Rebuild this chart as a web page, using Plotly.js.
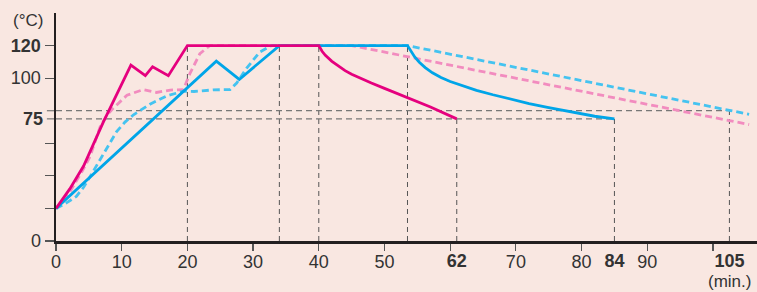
<!DOCTYPE html>
<html>
<head>
<meta charset="utf-8">
<script src="https://cdn.plot.ly/plotly-3.0.1.min.js"></script>
<style>html,body{margin:0;padding:0;background:#f9e7e1;}#chart{width:757px;height:292px;}</style>
</head>
<body>
<div id="chart"></div>
<script>
// Solid magenta
const magentaX = [0, 2.1, 4.2, 7.2, 11.4, 13.6, 14.7, 17.1, 20, 40, 40.5, 41, 42, 43, 44, 45, 46.5, 48, 50, 53.4, 57, 61];
const magentaY = [20, 32, 46, 73, 108, 101.5, 107, 101.5, 120, 120, 116.5, 114, 110.3, 107.2, 104.6, 102.4, 99.6, 97, 93.7, 88.2, 82.3, 75];
// Dashed pink
const pinkDashX = [0, 2.1, 4, 5.2, 6.7, 7.7, 8.7, 10.8, 13.3, 15.3, 17.4, 19.4, 20.4, 21.9, 23.4, 45, 105.5];
const pinkDashY = [20, 30, 43, 52, 70, 77, 81.5, 89.5, 93, 91.2, 92.7, 93, 103, 115, 120, 120, 71.5];
// Solid cyan
const cyanX = [0, 24.4, 27.9, 34, 53.5, 54, 54.6, 55.3, 56.2, 57.3, 58.6, 60, 62, 64, 66.5, 69, 72, 75, 78.7, 82, 85];
const cyanY = [20, 110.4, 99.2, 120, 120, 116.5, 113, 109.8, 106.5, 103.3, 100.4, 97.9, 95, 92.5, 89.8, 87.2, 84.4, 81.9, 78.9, 76.6, 75];
// Dashed cyan
const cyanDashX = [0, 1.6, 3.1, 4.2, 5.2, 6.7, 8.2, 9.2, 10.5, 11.8, 14.3, 16.8, 19.4, 21, 23.9, 26.5, 27.5, 29, 31, 32.8, 53.5, 105.5];
const cyanDashY = [20, 23.4, 27.4, 33, 39.6, 50, 60, 67, 73, 77.5, 84, 89, 92, 91.8, 92.8, 93, 97, 106, 116, 120, 120, 77.8];

// Axis ticks
const xTickVals = [0, 10, 20, 30, 40, 50, 60, 70, 80, 90, 100];
const xTickText = ['0', '10', '20', '30', '40', '50', '', '70', '80', '90', ''];
const xBoldVals = [61, 85, 102.5];
const xBoldText = ['62', '84', '105'];
const yTickVals = [0, 20, 40, 60, 100, 120];
const yTickText = ['0', '', '', '', '100', '<b>120</b>'];
const yBoldVal = 75;
const yBoldText = '75';

// Reference dashed guides
const vGuides = [[20, 120], [34, 120], [40, 120], [53.5, 120], [61, 75], [85, 75], [102.5, 80]];
const hGuides = [[80, 102.5], [75, 85]];

const font = 'Liberation Sans, Arial, sans-serif';
const traces = [
  {x: pinkDashX, y: pinkDashY, mode: 'lines', line: {color: '#f28cbf', width: 2.8, dash: '7px,4px'}, xaxis: 'x', yaxis: 'y'},
  {x: cyanDashX, y: cyanDashY, mode: 'lines', line: {color: '#45c3f0', width: 2.8, dash: '7px,4px'}, xaxis: 'x', yaxis: 'y'},
  {x: cyanX, y: cyanY, mode: 'lines', line: {color: '#00a5e8', width: 2.8}, xaxis: 'x2', yaxis: 'y'},
  {x: magentaX, y: magentaY, mode: 'lines', line: {color: '#e5007e', width: 2.8}, xaxis: 'x2', yaxis: 'y'}
];

const shapes = [];
vGuides.forEach(g => shapes.push({type: 'line', xref: 'x', yref: 'y', x0: g[0], x1: g[0], y0: 0, y1: g[1], layer: 'below', line: {color: '#555', width: 1, dash: '5px,4px'}}));
hGuides.forEach(g => {
  shapes.push({type: 'line', xref: 'x', yref: 'y', x0: 0, x1: g[1], y0: g[0], y1: g[0], layer: 'below', line: {color: '#777', width: 1.2, dash: '6px,4px'}});
  shapes.push({type: 'line', xref: 'paper', yref: 'y', x0: -0.013, x1: 0, y0: g[0], y1: g[0], layer: 'below', line: {color: '#777', width: 1.2}});
});

const axisCommon = {
  showline: true, linecolor: '#231f20', linewidth: 2.5, ticks: 'outside', tickcolor: '#555', tickwidth: 1.2,
  showgrid: false, zeroline: false, tickfont: {family: font, size: 18, color: '#333'}, fixedrange: true
};

const layout = {
  width: 757, height: 292,
  margin: {l: 56, r: 0, t: 13, b: 51},
  paper_bgcolor: '#f9e7e1', plot_bgcolor: '#f9e7e1',
  showlegend: false,
  xaxis: Object.assign({}, axisCommon, {range: [0, 106.7], tickmode: 'array', tickvals: xTickVals, ticktext: xTickText, ticklen: 7, ticklabelstandoff: -4}),
  xaxis2: Object.assign({}, axisCommon, {range: [0, 106.7], overlaying: 'x', anchor: 'y', side: 'bottom', showline: false,
    tickmode: 'array', tickvals: xBoldVals, ticktext: xBoldText.map(t => '<b>' + t + '</b>'), ticklen: 7, ticklabelstandoff: -4, tickcolor: 'rgba(0,0,0,0)'}),
  yaxis: Object.assign({}, axisCommon, {range: [0, 140], tickmode: 'array', tickvals: yTickVals, ticktext: yTickText, ticklen: 9}),
  shapes: shapes,
  annotations: [
    {xref: 'paper', yref: 'y', x: 0, y: yBoldVal, xanchor: 'right', yanchor: 'middle', xshift: -11, text: '<b>' + yBoldText + '</b>', showarrow: false, font: {family: font, size: 18, color: '#333'}},
    {xref: 'paper', yref: 'y', x: 0, y: 135.5, xanchor: 'right', yanchor: 'middle', xshift: -11, text: '(°C)', showarrow: false, font: {family: font, size: 17, color: '#333'}},
    {xref: 'x', yref: 'paper', x: 102.5, y: 0, xanchor: 'center', yanchor: 'top', yshift: -29, text: '(min.)', showarrow: false, font: {family: font, size: 17, color: '#333'}}
  ]
};

Plotly.newPlot('chart', traces, layout, {displayModeBar: false, staticPlot: true});
</script>
</body>
</html>
